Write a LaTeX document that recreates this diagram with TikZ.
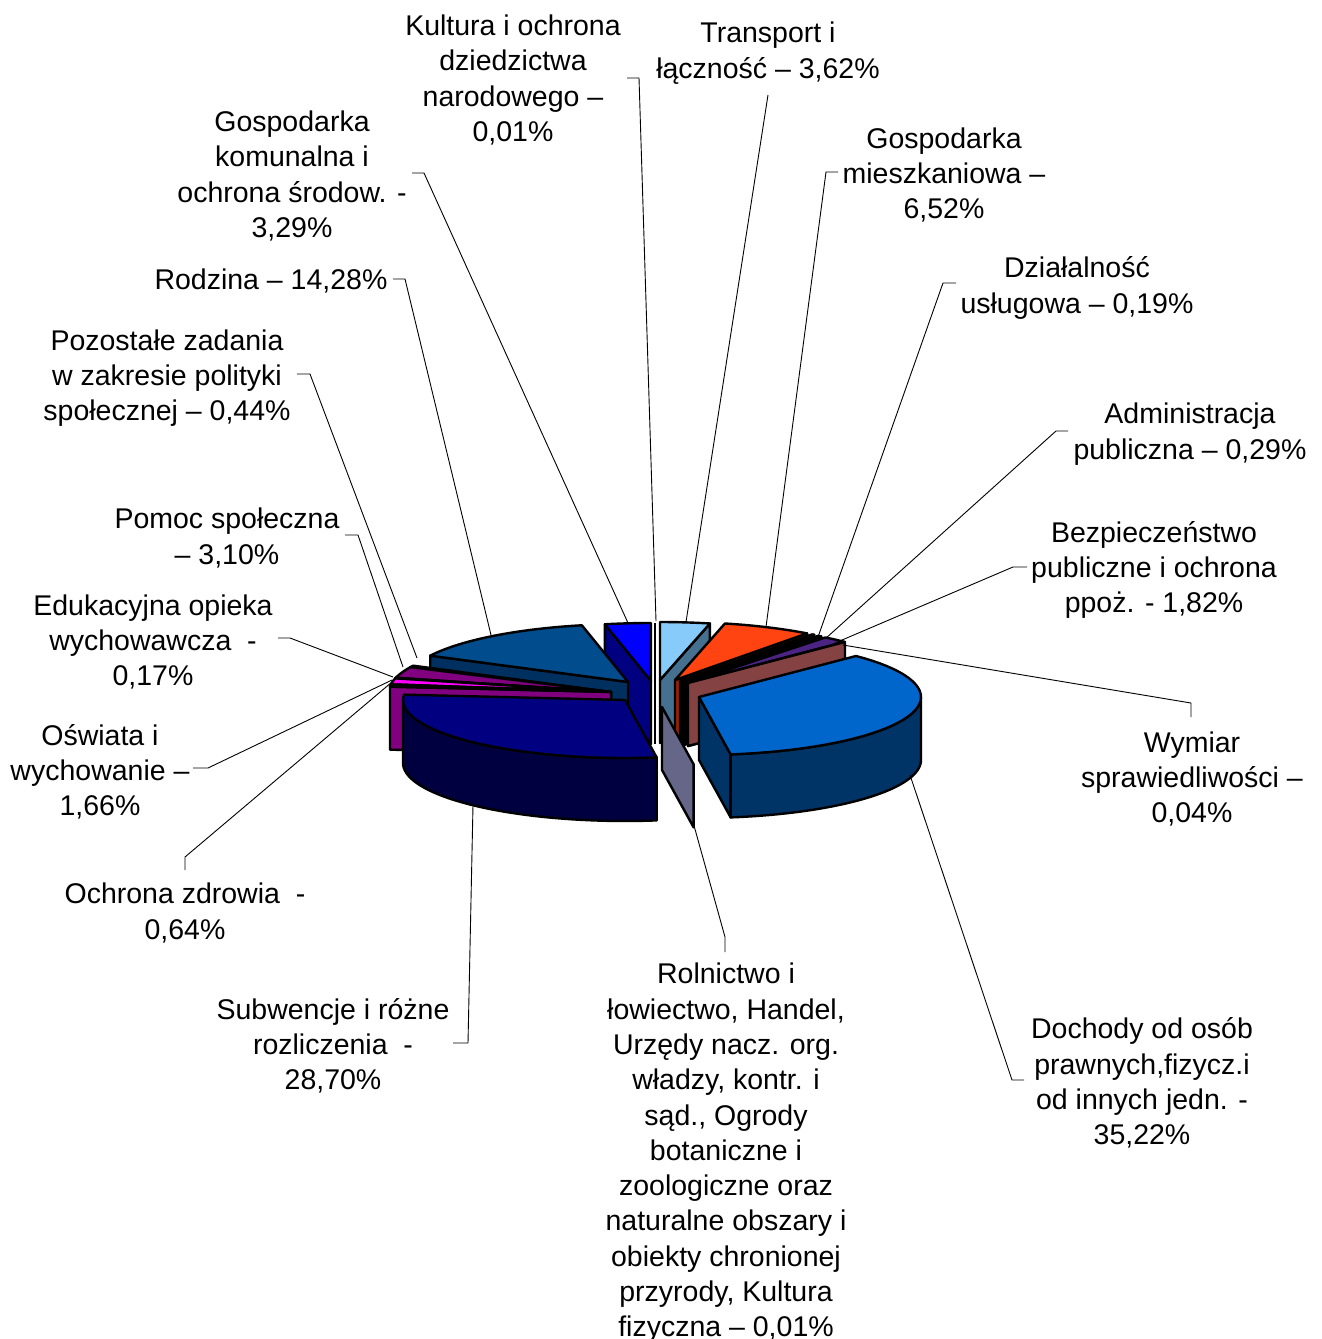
\documentclass[tikz,border=0pt]{standalone}
\usepackage{fontspec}
\setmainfont{Liberation Sans}
\definecolor{cKomTop}{HTML}{0000FF}
\definecolor{cKomSide}{HTML}{000080}
\definecolor{cRodTop}{HTML}{004C8C}
\definecolor{cRodSide}{HTML}{003060}
\definecolor{cTraTop}{HTML}{87CBFA}
\definecolor{cTraSide}{HTML}{46708F}
\definecolor{cMieTop}{HTML}{FF4411}
\definecolor{cMieSide}{HTML}{992200}
\definecolor{cBezTop}{HTML}{4B2383}
\definecolor{cBezSide}{HTML}{2A1050}
\definecolor{cWymSide}{HTML}{844242}
\definecolor{cPomTop}{HTML}{800080}
\definecolor{cPomSide}{HTML}{600060}
\definecolor{cOswTop}{HTML}{FF00FF}
\definecolor{cOchSide}{HTML}{800080}
\definecolor{cSubTop}{HTML}{000080}
\definecolor{cSubSide}{HTML}{000040}
\definecolor{cRolSide}{HTML}{666688}
\definecolor{cDocTop}{HTML}{0066CC}
\definecolor{cDocSide}{HTML}{003366}
\tikzset{
  piece/.style={draw=black,line width=2.4pt,line join=round},
  lead/.style={draw=black,line width=0.9pt},
  lbl/.style={align=center,inner sep=0pt,yshift=-3pt,font=\fontsize{28.5}{35.3}\selectfont}
}
% top face of a slice: cx, cy, from, to, colour
\newcommand\pietop[5]{\filldraw[piece,fill=#5] (#1,#2) -- plot[domain=#3:#4,samples=40] ({#1+222*cos(\x)},{#2-58*sin(\x)}) -- cycle;}
% radial side face: cx, cy, angle, colour
\newcommand\pieface[4]{\filldraw[piece,fill=#4] (#1,#2) -- ({#1+222*cos(#3)},{#2-58*sin(#3)}) -- ({#1+222*cos(#3)},{#2-58*sin(#3)+63}) -- (#1,{#2+63}) -- cycle;}
% outer curved side: cx, cy, from, to, colour
\newcommand\pieouter[5]{\filldraw[piece,fill=#5] plot[domain=#3:#4,samples=40] ({#1+222*cos(\x)},{#2-58*sin(\x)}) -- plot[domain=#4:#3,samples=40] ({#1+222*cos(\x)},{#2-58*sin(\x)+63}) -- cycle;}
\begin{document}
\begin{tikzpicture}[x=1pt,y=-1pt]
\fill[white] (0,0) rectangle (1322,1339);
\useasboundingbox (0,0) rectangle (1322,1339);

% ---- pie (back to front) ----
% Gospodarka komunalna
\pieface{651}{681}{102}{cKomSide}
\pietop{651}{681}{90}{102}{cKomTop}
% Rodzina
\pieface{628}{682}{153}{cRodSide}
\pietop{628}{682}{102}{153}{cRodTop}
% Kultura (edge-on)
\draw[piece] (655,623) -- (655,744);
% Transport
\pieface{660}{680}{77}{cTraSide}
\pietop{660}{680}{77}{90}{cTraTop}
% Gospodarka mieszkaniowa
\pieface{675}{680}{53.5}{cMieSide}
\pietop{675}{680}{53.5}{77}{cMieTop}
% Dzialalnosc uslugowa
\pieface{680}{681}{52.8}{black}
\pietop{680}{681}{52.8}{53.5}{black}
% Administracja
\pieface{684}{682}{51.8}{black}
\pietop{684}{682}{51.8}{52.8}{black}
% Bezpieczenstwo
\pieface{688}{683}{45.2}{cBezSide}
\pietop{688}{683}{45.2}{51.8}{cBezTop}
% Wymiar sprawiedliwosci
\pieface{688}{683}{45}{cWymSide}
% left purple group
\pieface{611}{692}{154.6}{black}
\pietop{611}{692}{153}{154.6}{black}
\pieface{611}{692}{165.8}{cPomSide}
\pietop{611}{692}{154.6}{165.8}{cPomTop}
\pieface{611}{692}{166.4}{black}
\pietop{611}{692}{165.8}{166.4}{black}
\pieface{611}{692}{172.4}{cPomSide}
\pietop{611}{692}{166.4}{172.4}{cOswTop}
\pieface{611}{692}{174.7}{cOchSide}
\pietop{611}{692}{172.4}{174.7}{cOchSide}
% Rolnictwo
\pieface{662}{707}{-81.8}{cRolSide}
% Subwencje
\pieouter{625}{700}{180}{278.2}{cSubSide}
\pietop{625}{700}{174.7}{278.2}{cSubTop}
% Dochody
\pieface{699}{697}{-81.8}{cDocSide}
\pieouter{699}{697}{-81.8}{0}{cDocSide}
\pietop{699}{697}{-81.8}{45}{cDocTop}

% ---- labels ----
\node[lbl] (kultura) at (513,77) {Kultura i ochrona\\dziedzictwa\\narodowego –\\0,01\%};
\node[lbl] (transport) at (768,50) {Transport i\\łączność – 3,62\%};
\node[lbl] (mieszk) at (944,172) {Gospodarka\\mieszkaniowa –\\6,52\%};
\node[lbl] (dzial) at (1077,285) {Działalność\\usługowa – 0,19\%};
\node[lbl] (admin) at (1190,431) {Administracja\\publiczna – 0,29\%};
\node[lbl] (bezp) at (1154,567) {Bezpieczeństwo\\publiczne i ochrona\\ppoż. - 1,82\%};
\node[lbl] (wymiar) at (1192,776) {Wymiar\\sprawiedliwości –\\0,04\%};
\node[lbl] (dochody) at (1142,1080) {Dochody od osób\\prawnych,fizycz.i\\od innych jedn. -\\35,22\%};
\node[lbl] (rolnictwo) at (726,1150) {Rolnictwo i\\łowiectwo, Handel,\\Urzędy nacz. org.\\władzy, kontr. i\\sąd., Ogrody\\botaniczne i\\zoologiczne oraz\\naturalne obszary i\\obiekty chronionej\\przyrody, Kultura\\fizyczna – 0,01\%};
\node[lbl] (subw) at (333,1043) {Subwencje i różne\\rozliczenia\ \ -\\28,70\%};
\node[lbl] (ochrona) at (185,910) {Ochrona zdrowia\ \ -\\0,64\%};
\node[lbl] (oswiata) at (100,769) {Oświata i\\wychowanie –\\1,66\%};
\node[lbl] (eduk) at (153,639) {Edukacyjna opieka\\wychowawcza\ \ -\\0,17\%};
\node[lbl] (pomoc) at (227,535) {Pomoc społeczna\\– 3,10\%};
\node[lbl] (pozost) at (167,375) {Pozostałe zadania\\w zakresie polityki\\społecznej – 0,44\%};
\node[lbl] (rodzina) at (271,278) {Rodzina – 14,28\%};
\node[lbl] (komun) at (292,173) {Gospodarka\\komunalna i\\ochrona środow. -\\3,29\%};

% ---- leader lines ----
\coordinate (kulturaA) at (627,78);   \coordinate (kulturaB) at (656,621);
\coordinate (transA) at (768,95);     \coordinate (transB) at (686,622);
\coordinate (mieszA) at (838,172);    \coordinate (mieszB) at (766,627);
\coordinate (dzialA) at (956,283);    \coordinate (dzialB) at (818,637);
\coordinate (adminA) at (1068,431);   \coordinate (adminB) at (825,639);
\coordinate (bezpA) at (1027,567);    \coordinate (bezpB) at (835,643);
\coordinate (wymA) at (1191,717);     \coordinate (wymB) at (843,645);
\coordinate (docA) at (1024,1080);    \coordinate (docB) at (910,775);
\coordinate (rolA) at (725,952);      \coordinate (rolB) at (693,822);
\coordinate (subA) at (453,1043);     \coordinate (subB) at (473,805);
\coordinate (ochA) at (185,870);      \coordinate (ochB) at (392,682);
\coordinate (oswA) at (193,768);      \coordinate (oswB) at (392,680);
\coordinate (eduA) at (278,638);      \coordinate (eduB) at (393,677);
\coordinate (pomA) at (345,535);      \coordinate (pomB) at (403,667);
\coordinate (pozA) at (297,374);      \coordinate (pozB) at (417,658);
\coordinate (rodA) at (393,279);      \coordinate (rodB) at (491,635);
\coordinate (komA) at (412,173);      \coordinate (komB) at (628,623);

\draw[lead] (kulturaA) -- (639,78) -- (kulturaB);
\draw[lead] (transA) -- (transB);
\draw[lead] (mieszA) -- (826,172) -- (mieszB);
\draw[lead] (dzialA) -- (943,283) -- (dzialB);
\draw[lead] (adminA) -- (1056,431) -- (adminB);
\draw[lead] (bezpA) -- (1013,567) -- (bezpB);
\draw[lead] (wymA) -- (1191,703) -- (wymB);
\draw[lead] (docA) -- (1012,1080) -- (docB);
\draw[lead] (rolA) -- (725,937) -- (rolB);
\draw[lead] (subA) -- (468,1043) -- (subB);
\draw[lead] (ochA) -- (185,857) -- (ochB);
\draw[lead] (oswA) -- (208,768) -- (oswB);
\draw[lead] (eduA) -- (290,638) -- (eduB);
\draw[lead] (pomA) -- (358,535) -- (pomB);
\draw[lead] (pozA) -- (310,374) -- (pozB);
\draw[lead] (rodA) -- (405,279) -- (rodB);
\draw[lead] (komA) -- (424,173) -- (komB);
\end{tikzpicture}
\end{document}
